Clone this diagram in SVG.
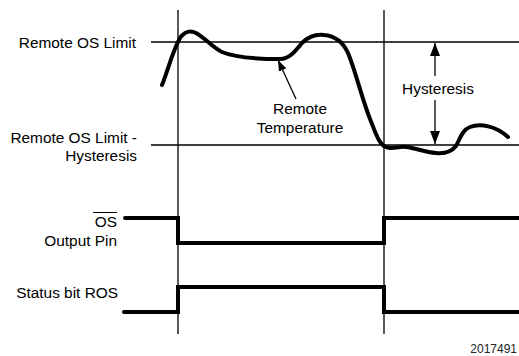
<svg xmlns="http://www.w3.org/2000/svg" width="519" height="356" viewBox="0 0 519 356">
<style>
.t{font-family:"Liberation Sans",Arial,sans-serif;font-size:15.4px;fill:#000}
.thin{stroke:#000;stroke-width:1.3;fill:none}
.thick{stroke:#000;stroke-width:4;fill:none;stroke-linecap:round;stroke-linejoin:miter}
</style>
<defs>
<marker id="ah" markerUnits="userSpaceOnUse" markerWidth="13" markerHeight="10" refX="13" refY="5" orient="auto">
<path d="M0,0 L13,5 L0,10 z" fill="#000"/>
</marker>
<marker id="ahs" markerUnits="userSpaceOnUse" markerWidth="11" markerHeight="8" refX="11" refY="4" orient="auto">
<path d="M0,0 L11,4 L0,8 z" fill="#000"/>
</marker>
</defs>
<g id="grid">
<line class="thin" x1="178" y1="10" x2="178" y2="334"/>
<line class="thin" x1="384" y1="10" x2="384" y2="334"/>
<line class="thin" x1="151" y1="42" x2="519" y2="42"/>
<line class="thin" x1="151" y1="145" x2="519" y2="145"/>
</g>
<g id="remote-temperature-curve">
<path class="thick" stroke-width="3.8" d="M162,85 C168,70 173,50 180,38 C184,32 190,30 196,33 C204,37 212,47 222,52 C236,58 258,59 280,59 C290,59 296,50 302,43 C308,37 316,34 324,35 C336,36 343,42 348,53 C356,72 362,100 372,124 C376,134 379,144 386,147 C392,150 398,146 406,147 C416,148 424,152 436,153 C446,154 452,151 456,146 C460,139 462,130 470,127 C480,123 496,126 508,137"/>
</g>
<g id="connectors">
<line class="thin" x1="296" y1="99" x2="278" y2="60" marker-end="url(#ahs)"/>
<line class="thin" x1="435" y1="76" x2="435" y2="43" marker-end="url(#ah)"/>
<line class="thin" x1="435" y1="100" x2="435" y2="144" marker-end="url(#ah)"/>
</g>
<g id="labels">
<text class="t" x="136" y="48" text-anchor="end">Remote OS Limit</text>
<text class="t" x="137" y="143" text-anchor="end">Remote OS Limit -</text>
<text class="t" x="137" y="161" text-anchor="end">Hysteresis</text>
<text class="t" x="300" y="114" text-anchor="middle">Remote</text>
<text class="t" x="300" y="133" text-anchor="middle">Temperature</text>
<text class="t" x="438" y="94" text-anchor="middle">Hysteresis</text>
</g>
<g id="os-output-pin">
<text class="t" x="117" y="227" text-anchor="end">OS</text>
<line x1="93" y1="212.5" x2="117" y2="212.5" stroke="#000" stroke-width="1"/>
<text class="t" x="117" y="246" text-anchor="end">Output Pin</text>
<path class="thick" d="M125,218 H178 V243 H384 V218 H519"/>
</g>
<g id="status-bit-ros">
<text class="t" x="118" y="298" text-anchor="end">Status bit ROS</text>
<path class="thick" d="M124,312 H178 V287 H384 V312 H519"/>
</g>
<text x="517" y="353" text-anchor="end" style="font-family:'Liberation Sans',Arial,sans-serif;font-size:12px;fill:#222">2017491</text>
</svg>
